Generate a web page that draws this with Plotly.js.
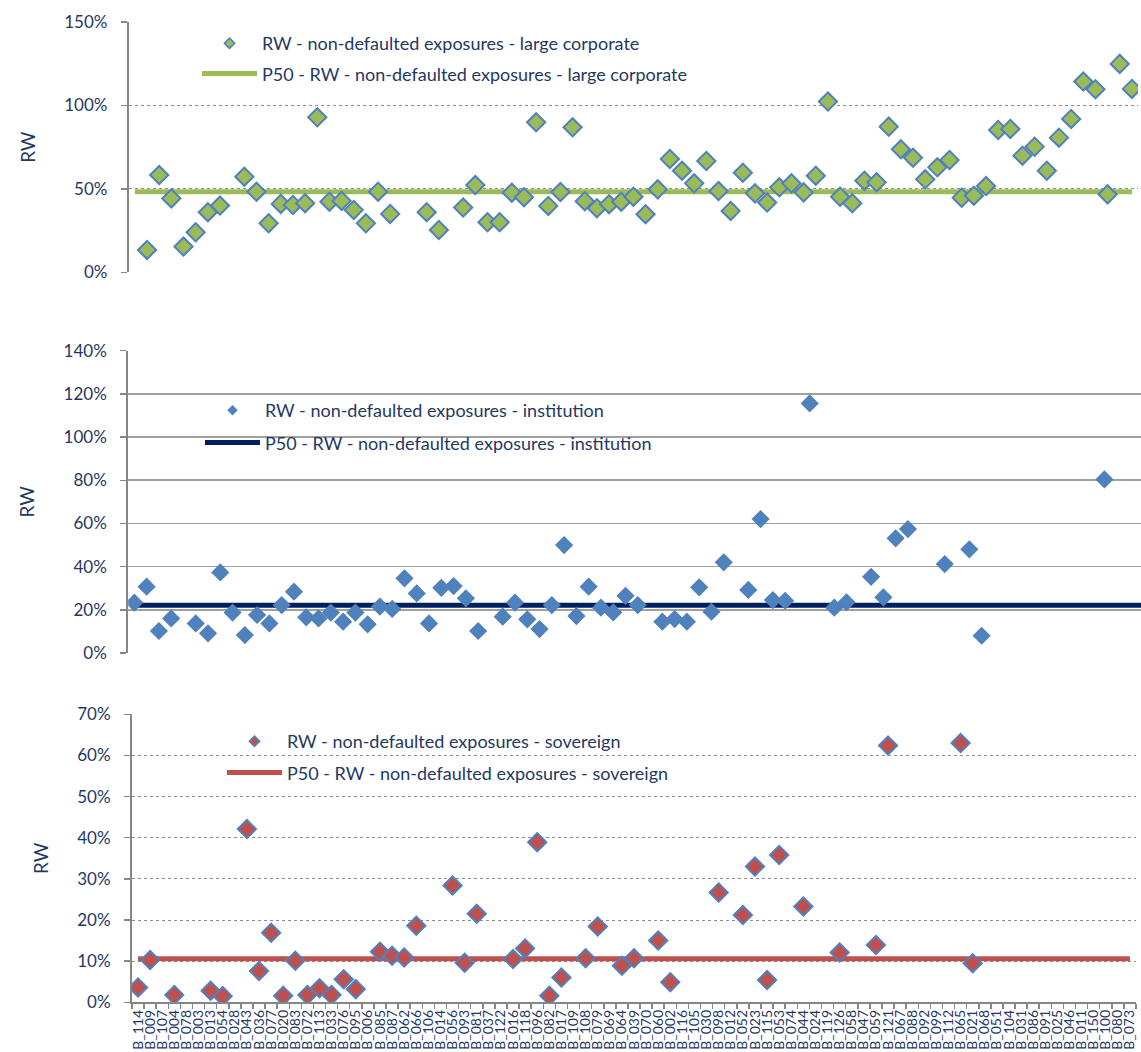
<!DOCTYPE html>
<html><head><meta charset="utf-8">
<script src="https://cdn.plot.ly/plotly-3.0.1.min.js"></script>
<style>html,body{margin:0;padding:0;background:#fff;} #chart{width:1141px;height:1052px;}</style>
</head><body><div id="chart"></div>
<script>
const categories = ["B_114","B_009","B_107","B_004","B_078","B_003","B_013","B_054","B_028","B_043",
"B_036","B_077","B_020","B_083","B_072","B_113","B_033","B_076","B_095","B_006",
"B_085","B_087","B_062","B_066","B_106","B_014","B_056","B_093","B_081","B_037",
"B_122","B_016","B_118","B_096","B_082","B_017","B_109","B_108","B_079","B_069",
"B_064","B_039","B_070","B_060","B_002","B_116","B_105","B_030","B_098","B_012",
"B_052","B_023","B_115","B_053","B_074","B_044","B_024","B_119","B_126","B_058",
"B_047","B_059","B_121","B_067","B_088","B_092","B_099","B_112","B_065","B_021",
"B_068","B_051","B_104","B_031","B_086","B_091","B_025","B_046","B_011","B_150",
"B_100","B_080","B_073"];

const rwLargeCorporate = [null,13.4,58.3,44.3,15.4,24.0,36.0,40.0,null,57.3,
48.3,29.4,41.0,40.4,41.4,92.9,42.3,42.8,37.4,29.4,
48.3,35.0,null,null,36.0,25.4,null,38.8,52.3,30.0,
30.0,47.7,45.0,89.9,39.8,48.1,86.9,42.6,38.4,40.8,
42.3,45.3,34.8,49.7,67.9,60.9,53.3,66.7,48.7,36.8,
59.7,47.3,41.8,50.9,53.3,47.9,57.9,102.3,45.3,41.4,
54.9,53.9,87.3,73.7,68.7,55.7,62.9,67.3,44.7,45.9,
51.7,85.3,85.9,69.9,75.3,60.9,80.7,91.9,114.3,109.7,
46.7,124.9,109.9];

const rwInstitution = [23.3,30.7,10.2,16.0,null,13.7,9.1,37.3,18.7,8.3,
17.6,13.7,22.2,28.4,16.5,16.0,18.7,14.5,18.7,13.3,
21.5,20.4,34.6,27.6,13.7,30.2,31.0,25.3,10.2,null,
16.8,23.3,15.6,11.1,22.2,50.0,17.1,30.7,21.0,18.8,
26.5,22.2,null,14.5,15.7,14.5,30.4,19.1,42.0,null,
29.2,62.0,24.5,24.2,null,115.6,null,21.0,23.5,null,
35.3,25.8,53.1,57.4,null,null,41.2,null,48.0,8.0,
null,null,null,null,null,null,null,null,null,80.4,
null,null,null];

const rwSovereign = [3.6,10.3,null,1.8,null,null,2.8,1.5,null,42.1,
7.6,16.9,1.6,10.1,1.8,3.4,1.8,5.6,3.2,null,
12.3,11.3,10.9,18.6,null,null,28.4,9.6,21.5,null,
null,10.5,13.1,38.9,1.6,6.0,null,10.7,18.4,null,
8.9,10.7,null,15.0,4.9,null,null,null,26.7,null,
21.2,33.0,5.4,35.8,null,23.3,null,null,12.1,null,
null,13.9,62.4,null,null,null,null,null,63.0,9.5,
null,null,null,null,null,null,null,null,null,null,
null,null,null];

const p50LargeCorporate = 48.3;
const p50Institution = 22.1;
const p50Sovereign = 10.6;

const namesCorporate = ["RW - non-defaulted exposures - large corporate", "P50 - RW - non-defaulted exposures - large corporate"];
const namesInstitution = ["RW - non-defaulted exposures - institution", "P50 - RW - non-defaulted exposures - institution"];
const namesSovereign = ["RW - non-defaulted exposures - sovereign", "P50 - RW - non-defaulted exposures - sovereign"];

const NAVY = '#1F3864';
const FONT = 'Lato, "Open Sans", sans-serif';
const W = 1141, H = 1052;
const px = v => v / W;
const py = v => 1 - v / H;

const first = categories[0], last = categories[categories.length - 1];

function p50Trace(val, color, xa, ya, leg, name) {
  return {type:'scatter', mode:'lines', x:[first,last], y:[val,val], xaxis:xa, yaxis:ya,
    line:{color:color, width:5}, name:name, legend:leg, legendrank:2, legendgroup:leg+'b', hoverinfo:'skip'};
}
function ptTrace(vals, fill, border, bw, xa, ya, leg, name) {
  return {type:'scatter', mode:'markers', x:categories, y:vals, xaxis:xa, yaxis:ya,
    marker:{symbol:'diamond', size:14, color:fill, line:{color:border, width:bw}},
    name:name, legend:leg, showlegend:false, legendgroup:leg+'a'};
}
// legend-only entry (no marks on the plot) with a small symbol like the original key
function keyTrace(fill, border, bw, xa, ya, leg, name) {
  return {type:'scatter', mode:'markers', x:[null], y:[null], xaxis:xa, yaxis:ya,
    marker:{symbol:'diamond', size:8, color:fill, line:{color:border, width:bw}},
    name:name, legend:leg, legendrank:1, legendgroup:leg+'a', hoverinfo:'skip'};
}

const data = [
  p50Trace(p50LargeCorporate, '#9BBB59', 'x', 'y', 'legend', namesCorporate[1]),
  ptTrace(rwLargeCorporate, '#9BBB59', '#4F81BD', 2, 'x', 'y', 'legend', namesCorporate[0]),
  keyTrace('#9BBB59', '#4F81BD', 1.5, 'x', 'y', 'legend', namesCorporate[0]),
  p50Trace(p50Institution, '#002060', 'x2', 'y2', 'legend2', namesInstitution[1]),
  ptTrace(rwInstitution, '#4F81BD', '#4F81BD', 0, 'x2', 'y2', 'legend2', namesInstitution[0]),
  keyTrace('#4F81BD', '#4F81BD', 0, 'x2', 'y2', 'legend2', namesInstitution[0]),
  p50Trace(p50Sovereign, '#C0504D', 'x3', 'y3', 'legend3', namesSovereign[1]),
  ptTrace(rwSovereign, '#C0504D', '#4F81BD', 2, 'x3', 'y3', 'legend3', namesSovereign[0]),
  keyTrace('#C0504D', '#4F81BD', 1.5, 'x3', 'y3', 'legend3', namesSovereign[0])
];

const tickFont = {family:FONT, size:17, color:NAVY};
function yax(domain, range, dtick, dotted, anchor) {
  return {domain:domain, range:range, dtick:dtick, ticksuffix:'%', anchor:anchor,
    showgrid:true, gridcolor: dotted ? '#8C8C8C' : '#A0A0A0', griddash: dotted ? 'dot' : 'solid', gridwidth: dotted ? 1 : 1.6,
    zeroline:false, showline:true, linecolor:'#868686', linewidth:2,
    ticks:'outside', ticklen:6, tickcolor:'#868686', tickwidth:1.5, ticklabelstandoff:10,
    tickfont:tickFont, fixedrange:true,
    title:{text:'RW', font:{family:FONT, size:19, color:NAVY}, standoff:24}};
}
function xax(domain, range, anchor, showLabels) {
  const a = {domain:domain, range:range, type:'category', categoryorder:'array', categoryarray:categories,
    anchor:anchor, showgrid:false, zeroline:false, fixedrange:true};
  if (showLabels) {
    Object.assign(a, {showticklabels:true, tickmode:'array', tickvals:categories, ticktext:categories, tickangle:-90,
      ticks:'outside', tickson:'boundaries', ticklen:5, tickcolor:'#868686', tickwidth:1.5,
      showline:true, linecolor:'#868686', linewidth:2,
      tickfont:{family:FONT, size:14, color:NAVY}});
  } else {
    Object.assign(a, {showticklabels:false, ticks:'', showline:false});
  }
  return a;
}
const legFont = {family:FONT, size:18, color:NAVY};
function leg(x, y, gap) {
  return {x:x, y:y, xanchor:'left', yanchor:'top', bgcolor:'rgba(0,0,0,0)', borderwidth:0,
    font:legFont, traceorder:'grouped', tracegroupgap:gap, itemwidth:55, itemclick:false, itemdoubleclick:false};
}

const layout = {
  width:W, height:H, margin:{l:0, r:0, t:0, b:0}, paper_bgcolor:'#fff', plot_bgcolor:'rgba(0,0,0,0)',
  showlegend:true, font:{family:FONT, color:NAVY},
  xaxis: xax([px(128.8), px(1138)], [-0.5, 82.5], 'y', false),
  yaxis: yax([py(272.3), py(22)], [0,150], 50, true, 'x'),
  xaxis2: xax([px(128.2), 1], [-0.5, 81.98], 'y2', false),
  yaxis2: yax([py(653), py(350.7)], [0,140], 20, false, 'x2'),
  xaxis3: xax([px(132), px(1136)], [-0.5, 82.5], 'y3', true),
  yaxis3: yax([py(1002.3), py(714.3)], [0,70], 10, true, 'x3'),
  legend: leg(px(197), py(25), 4),
  legend2: leg(px(200), py(392), 6),
  legend3: leg(px(222), py(723), 5)
};

Plotly.newPlot('chart', data, layout, {staticPlot:true, displayModeBar:false});
</script></body></html>
